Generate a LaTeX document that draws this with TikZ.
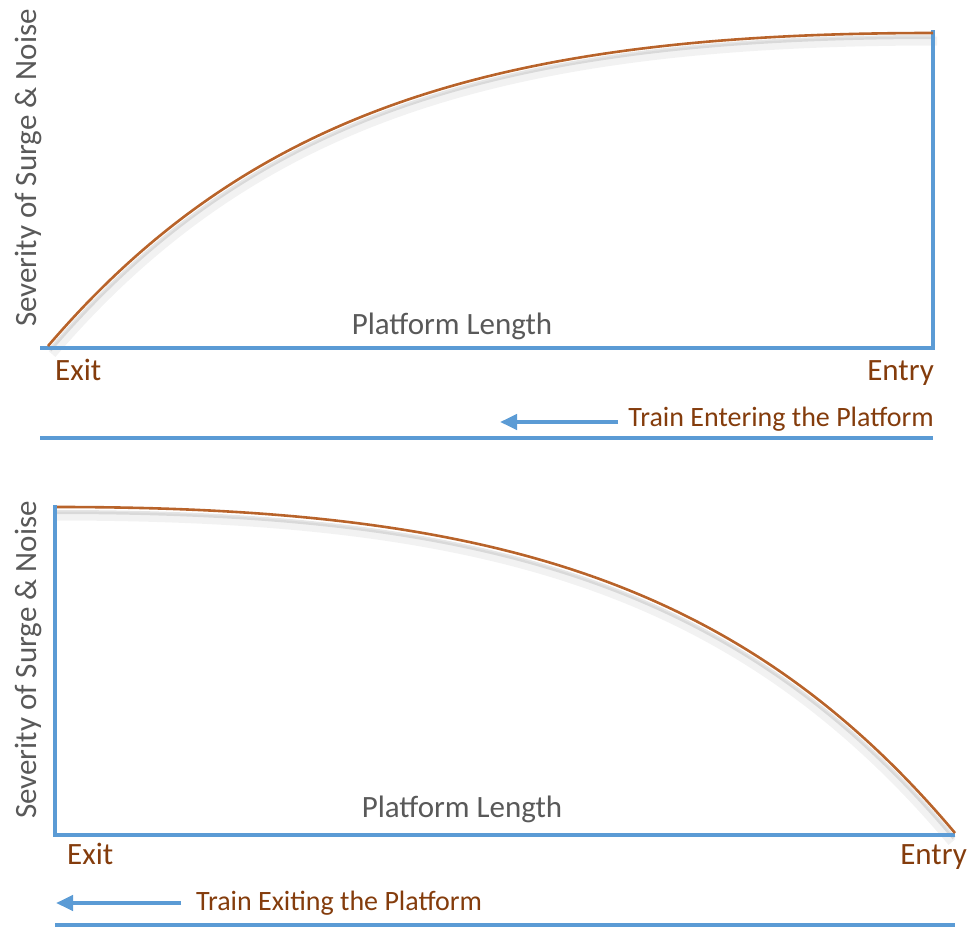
\documentclass[tikz,border=0pt]{standalone}
\usepackage{fontspec}
\setmainfont{Carlito}
\usetikzlibrary{arrows.meta}
\definecolor{axisblue}{HTML}{5B9BD5}
\definecolor{curvebrown}{HTML}{B8632A}
\definecolor{labelbrown}{HTML}{843C0C}
\definecolor{labelgray}{HTML}{595959}
\tikzset{
  axis/.style={draw=axisblue, line width=4pt},
  curve/.style={draw=curvebrown, line width=2.6pt},
  shade1/.style={draw=black, line width=9pt, opacity=0.05},
  shade2/.style={draw=black, line width=4pt, opacity=0.10},
  dirarrow/.style={draw=axisblue, line width=4pt, -{Triangle[length=17pt,width=15pt]}},
  ylab/.style={text=labelgray, font=\fontsize{31}{36}\selectfont, rotate=90, inner sep=0pt},
  xlab/.style={text=labelgray, font=\fontsize{31}{36}\selectfont, inner sep=0pt},
  endlab/.style={text=labelbrown, font=\fontsize{31}{36}\selectfont, inner sep=0pt},
  dirlab/.style={text=labelbrown, font=\fontsize{28}{33}\selectfont, inner sep=0pt}
}
\begin{document}
\begin{tikzpicture}[x=1pt, y=-1pt]
\useasboundingbox (0,0) rectangle (972,929);

% ---- upper chart: train entering ----
\coordinate (a0) at (40,348);
\coordinate (a1) at (933,348);
\coordinate (a2) at (933,30);
\coordinate (c0) at (48,346);
\coordinate (c1) at (933,33);
\draw[shade1] ([shift={(4,8)}]c0) .. controls (254,118) and (504,41) .. ([shift={(4,8)}]c1);
\draw[shade2] ([shift={(2,4)}]c0) .. controls (252,114) and (502,37) .. ([shift={(2,4)}]c1);
\draw[axis] (a0) -- (a1) -- (a2);
\draw[curve] (c0) .. controls (250,110) and (500,33) .. (c1);
\node[ylab] (ya) at (28,168) {Severity of Surge \& Noise};
\node[xlab, anchor=base] (pa) at (452,334) {Platform Length};
\node[endlab, anchor=base west] (exa) at (55,380) {Exit};
\node[endlab, anchor=base east] (ena) at (934,380) {Entry};
\coordinate (ta0) at (618,422);
\coordinate (ta1) at (500,422);
\draw[dirarrow] (ta0) -- (ta1);
\node[dirlab, anchor=base east] (tra) at (934,426) {Train Entering the Platform};
\coordinate (la0) at (40,438);
\coordinate (la1) at (933,438);
\draw[axis] (la0) -- (la1);

% ---- lower chart: train exiting ----
\coordinate (b0) at (55,505);
\coordinate (b1) at (55,835);
\coordinate (b2) at (955,835);
\coordinate (d0) at (57,507);
\coordinate (d1) at (955,833);
\draw[shade1] ([shift={(-3,9)}]d0) .. controls (480,516) and (735,584) .. ([shift={(-3,9)}]d1);
\draw[shade2] ([shift={(-1,5)}]d0) .. controls (480,512) and (737,580) .. ([shift={(-1,5)}]d1);
\draw[axis] (b0) -- (b1) -- (b2);
\draw[curve] (d0) .. controls (480,507) and (738,575) .. (d1);
\node[ylab] (yb) at (28,660) {Severity of Surge \& Noise};
\node[xlab, anchor=base] (pb) at (462,817) {Platform Length};
\node[endlab, anchor=base west] (exb) at (67,864) {Exit};
\node[endlab, anchor=base east] (enb) at (967,864) {Entry};
\coordinate (tb0) at (181,903);
\coordinate (tb1) at (56,903);
\draw[dirarrow] (tb0) -- (tb1);
\node[dirlab, anchor=base west] (trb) at (196,910) {Train Exiting the Platform};
\coordinate (lb0) at (55,925);
\coordinate (lb1) at (955,925);
\draw[axis] (lb0) -- (lb1);
\end{tikzpicture}
\end{document}
